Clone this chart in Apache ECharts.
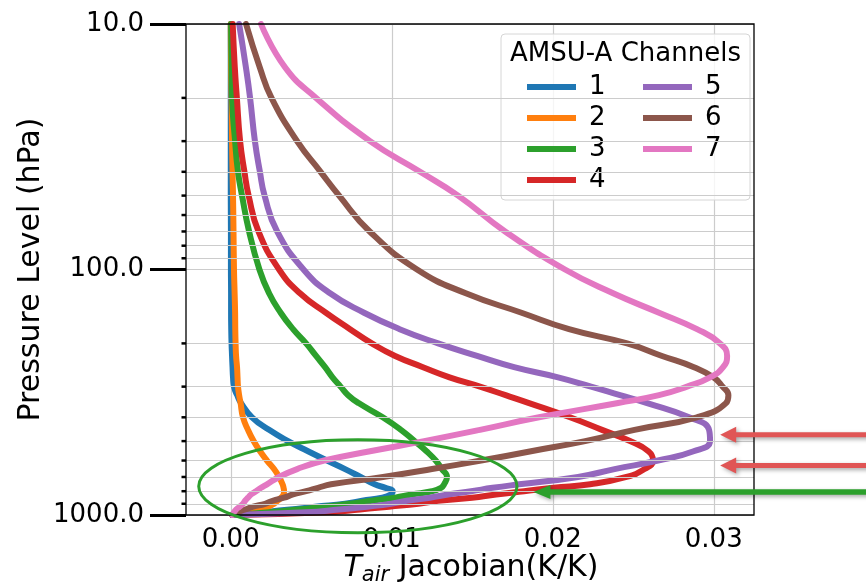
<!DOCTYPE html>
<html>
<head>
<meta charset="utf-8">
<title>AMSU-A temperature Jacobians</title>
<script src="https://cdn.jsdelivr.net/npm/echarts@6/dist/echarts.min.js"></script>
<style>
  html, body { margin: 0; padding: 0; background: #ffffff; }
  #chart { width: 866px; height: 587px; }
</style>
</head>
<body>
<div id="chart"></div>
<script>
// Pressure levels (hPa) shared by every channel profile
const pressureLevels = [10, 15, 20, 30, 40, 50, 70, 100, 125, 150, 175, 200, 225, 250, 275, 300, 325, 350,
  400, 450, 500, 550, 600, 650, 700, 750, 775, 800, 825, 850, 875, 900, 925, 950, 975, 1000];

// Temperature Jacobians (K/K) per AMSU-A channel, one value per pressure level
const channel1 = [0, 0, 0, 0, 0, 0, 0.00001, 0.00001, 0.00002, 0.00002, 0.00003, 0.00005, 0.00008, 0.00011, 0.00014, 0.0002, 0.0004, 0.00064,
  0.00132, 0.00238, 0.00356, 0.0048, 0.00598, 0.0071, 0.00806, 0.00894, 0.00961, 0.01006, 0.00993, 0.0094, 0.00816, 0.0071, 0.00524, 0.00368, 0.00194, 0.0001];
const channel2 = [0, 0.00002, 0.00005, 0.00008, 0.00011, 0.00014, 0.00017, 0.0002, 0.00024, 0.00027, 0.00028, 0.0003, 0.00033, 0.00039, 0.00042, 0.00045, 0.00052, 0.00061,
  0.00076, 0.00107, 0.00142, 0.00182, 0.00225, 0.00269, 0.003, 0.00322, 0.00328, 0.00331, 0.00328, 0.00313, 0.00291, 0.00269, 0.00235, 0.0018, 0.00112, 0.0002];
const channel3 = [0.00002, 0.00005, 0.00008, 0.00027, 0.00045, 0.0007, 0.00114, 0.00178, 0.00238, 0.0031, 0.00387, 0.00468, 0.0053, 0.00586, 0.00632, 0.00682, 0.00729, 0.00794,
  0.00944, 0.01057, 0.01142, 0.01216, 0.01273, 0.01311, 0.01343, 0.01325, 0.01306, 0.0125, 0.01123, 0.0102, 0.00878, 0.0074, 0.0058, 0.0042, 0.0024, 0.0001];
const channel4 = [0.00012, 0.00025, 0.00038, 0.00058, 0.00085, 0.00111, 0.00172, 0.003, 0.0043, 0.00591, 0.00741, 0.00876, 0.01021, 0.01194, 0.01359, 0.01548, 0.01707, 0.01853,
  0.02107, 0.02306, 0.0248, 0.02594, 0.02623, 0.0257, 0.02458, 0.02232, 0.02005, 0.01822, 0.01648, 0.01499, 0.01288, 0.01166, 0.00983, 0.00803, 0.00583, 0.0001];
const channel5 = [0.00052, 0.00094, 0.0012, 0.0015, 0.00181, 0.0021, 0.00288, 0.00452, 0.00617, 0.00828, 0.01049, 0.01288, 0.0153, 0.0176, 0.02033, 0.02238, 0.02418, 0.02586,
  0.02847, 0.02971, 0.02977, 0.02875, 0.02654, 0.02384, 0.02157, 0.01791, 0.01626, 0.01493, 0.0135, 0.01238, 0.01092, 0.00996, 0.00847, 0.00673, 0.00468, 0.0001];
const channel6 = [0.00095, 0.0018, 0.00253, 0.00412, 0.00558, 0.00673, 0.00863, 0.01157, 0.0146, 0.01806, 0.02101, 0.02462, 0.02679, 0.02877, 0.02998, 0.03055, 0.03091, 0.03076,
  0.02896, 0.02508, 0.02201, 0.01865, 0.01555, 0.0125, 0.00946, 0.00623, 0.00542, 0.00468, 0.00387, 0.00331, 0.0026, 0.00213, 0.00139, 0.00089, 0.00039, 0.0001];
const channel7 = [0.00188, 0.00337, 0.0053, 0.00865, 0.01176, 0.01412, 0.01704, 0.02076, 0.02375, 0.0266, 0.02896, 0.03039, 0.03083, 0.03058, 0.02977, 0.02834, 0.0266, 0.02406,
  0.01915, 0.01548, 0.01201, 0.00865, 0.0058, 0.00412, 0.003, 0.00225, 0.00188, 0.00157, 0.00126, 0.00107, 0.00089, 0.00076, 0.00055, 0.00033, 0.0002, 0.0001];

const channelNames = ['1', '2', '3', '4', '5', '6', '7'];
const channelColors = ['#1f77b4', '#ff7f0e', '#2ca02c', '#d62728', '#9467bd', '#8c564b', '#e377c2'];

// Axis ranges and tick values
const xRange = [-0.00278, 0.0325];
const yRange = [10, 1000];
const xTickValues = [0, 0.01, 0.02, 0.03];
const yMinorLevels = [20, 30, 40, 50, 60, 70, 80, 90, 200, 300, 400, 500, 600, 700, 800, 900];

// Annotations in data units: highlight ellipse and pointer arrows
const highlightEllipse = { x: [-0.00199, 0.01778], p: [494, 1181] };
const arrowLevels = [471, 628, 806];
const arrowTips = [0.0304, 0.0304, 0.0188];
const arrowTail = 0.0397;
const arrowColors = ['#e05555', '#e05555', '#2ca02c'];

const FONT = 'DejaVu Sans';
const GRID_COLOR = '#cccccc';

const channels = [channel1, channel2, channel3, channel4, channel5, channel6, channel7];

const lineSeries = channels.map((vals, i) => ({
  name: channelNames[i],
  type: 'line',
  data: pressureLevels.map((p, k) => [vals[k], p]),
  showSymbol: false,
  symbol: 'none',
  smooth: 0.5,
  lineStyle: { width: 6, color: channelColors[i], cap: 'round', join: 'round' },
  itemStyle: { color: channelColors[i] },
  emphasis: { disabled: true },
  animation: false
}));

// Horizontal grid lines at the minor pressure levels
const minorGridSeries = {
  type: 'line',
  data: [],
  z: 1,
  silent: true,
  animation: false,
  markLine: {
    silent: true,
    symbol: 'none',
    animation: false,
    label: { show: false },
    emphasis: { disabled: true },
    lineStyle: { color: GRID_COLOR, width: 1.2, type: 'solid' },
    data: yMinorLevels.map(p => ({ yAxis: p }))
  }
};

const legendCommon = {
  orient: 'vertical',
  top: 74,
  itemWidth: 49,
  itemHeight: 6,
  itemGap: 5,
  icon: 'rect',
  selectedMode: false,
  padding: 0,
  textStyle: { fontFamily: FONT, fontSize: 26, lineHeight: 26, color: '#000', padding: [0, 0, 0, 8] }
};

const option = {
  backgroundColor: '#ffffff',
  animation: false,
  grid: { left: 186, right: 112, top: 24, bottom: 72, show: false },
  xAxis: {
    type: 'value',
    min: xRange[0],
    max: xRange[1],
    axisLine: { show: false, onZero: false },
    axisTick: { show: false, customValues: xTickValues },
    axisLabel: {
      customValues: xTickValues,
      formatter: v => Number(v).toFixed(2),
      fontFamily: FONT, fontSize: 26, color: '#000', margin: 12
    },
    splitLine: { show: true, lineStyle: { color: GRID_COLOR, width: 1.2 } }
  },
  yAxis: {
    type: 'log',
    logBase: 10,
    min: yRange[0],
    max: yRange[1],
    inverse: true,
    axisLine: { show: false, onZero: false },
    axisTick: { show: true, length: 36, lineStyle: { color: '#000', width: 3 } },
    axisLabel: {
      formatter: v => Number(v).toFixed(1),
      fontFamily: FONT, fontSize: 26, color: '#000', margin: 42
    },
    splitLine: { show: true, lineStyle: { color: GRID_COLOR, width: 1.2 } },
    minorTick: { show: false },
    minorSplitLine: { show: false }
  },
  legend: [
    Object.assign({}, legendCommon, { left: 527, data: channelNames.slice(0, 4) }),
    Object.assign({}, legendCommon, { left: 643, data: channelNames.slice(4) })
  ],
  series: [minorGridSeries].concat(lineSeries)
};

const chart = echarts.init(document.getElementById('chart'), null, { renderer: 'canvas' });
chart.setOption(option);

// Frame, minor ticks, titles, legend box and annotations placed through the chart's scales
function buildOverlay() {
  const toPx = (x, p) => chart.convertToPixel({ seriesIndex: 1 }, [x, p]);
  const [gl, gt] = toPx(xRange[0], yRange[0]);
  const [gr, gb] = toPx(xRange[1], yRange[1]);
  const els = [];

  // Plot frame
  els.push({
    type: 'rect', silent: true, z: 20,
    shape: { x: gl, y: gt, width: gr - gl, height: gb - gt },
    style: { fill: 'none', stroke: '#000', lineWidth: 1.3 }
  });

  // Minor ticks on the pressure axis
  yMinorLevels.forEach(p => {
    const y = toPx(0, p)[1];
    els.push({
      type: 'line', silent: true, z: 20,
      shape: { x1: gl - 4.5, y1: y, x2: gl, y2: y },
      style: { stroke: '#000', lineWidth: 2.5 }
    });
  });

  // Axis titles
  els.push({
    type: 'text', silent: true, z: 20,
    x: 31, y: (gt + gb) / 2, rotation: Math.PI / 2,
    style: {
      text: 'Pressure Level (hPa)', fontFamily: FONT, fontSize: 30, fill: '#000',
      align: 'center', verticalAlign: 'middle'
    }
  });
  els.push({
    type: 'text', silent: true, z: 20,
    x: (gl + gr) / 2 + 1, y: 568,
    style: {
      text: '{t|T}{s|air}{n| Jacobian(K/K)}',
      align: 'center', verticalAlign: 'middle', fill: '#000',
      rich: {
        t: { fontFamily: FONT, fontSize: 30, fontStyle: 'italic', fill: '#000', verticalAlign: 'middle' },
        s: { fontFamily: FONT, fontSize: 21, fontStyle: 'italic', fill: '#000', verticalAlign: 'middle', padding: [15, 0, 0, 0] },
        n: { fontFamily: FONT, fontSize: 30, fill: '#000', verticalAlign: 'middle' }
      }
    }
  });

  // Legend frame and title
  els.push({
    type: 'rect', silent: true, z: 3,
    shape: { x: 501, y: 34, width: 249, height: 166, r: 4 },
    style: { fill: 'rgba(255,255,255,0.8)', stroke: '#d6d6d6', lineWidth: 1 }
  });
  els.push({
    type: 'text', silent: true, z: 5,
    x: 625.5, y: 54,
    style: {
      text: 'AMSU-A Channels', fontFamily: FONT, fontSize: 26, fill: '#000',
      align: 'center', verticalAlign: 'middle'
    }
  });

  // Highlight ellipse around the near-surface peaks
  const [ex1, ey1] = toPx(highlightEllipse.x[0], highlightEllipse.p[0]);
  const [ex2, ey2] = toPx(highlightEllipse.x[1], highlightEllipse.p[1]);
  els.push({
    type: 'ellipse', silent: true, z: 50,
    shape: { cx: (ex1 + ex2) / 2, cy: (ey1 + ey2) / 2, rx: Math.abs(ex2 - ex1) / 2, ry: Math.abs(ey2 - ey1) / 2 },
    style: { fill: 'none', stroke: '#2ca02c', lineWidth: 3 }
  });

  // Pointer arrows
  arrowLevels.forEach((p, i) => {
    const [tx, y] = toPx(arrowTips[i], p);
    const tailX = toPx(arrowTail, p)[0];
    const shaft = i === 2 ? 2.7 : 2.5;
    const headLen = i === 2 ? 17 : 16;
    const headHalf = i === 2 ? 7 : 8;
    els.push({
      type: 'polygon', silent: true, z: 50,
      shape: {
        points: [
          [tailX, y - shaft], [tx + headLen, y - shaft], [tx + headLen, y - headHalf], [tx, y],
          [tx + headLen, y + headHalf], [tx + headLen, y + shaft], [tailX, y + shaft]
        ]
      },
      style: {
        fill: arrowColors[i],
        shadowBlur: 4, shadowColor: 'rgba(0,0,0,0.35)', shadowOffsetX: 2, shadowOffsetY: 2
      }
    });
  });

  chart.setOption({ graphic: { elements: els } });
}
buildOverlay();
</script>
</body>
</html>
